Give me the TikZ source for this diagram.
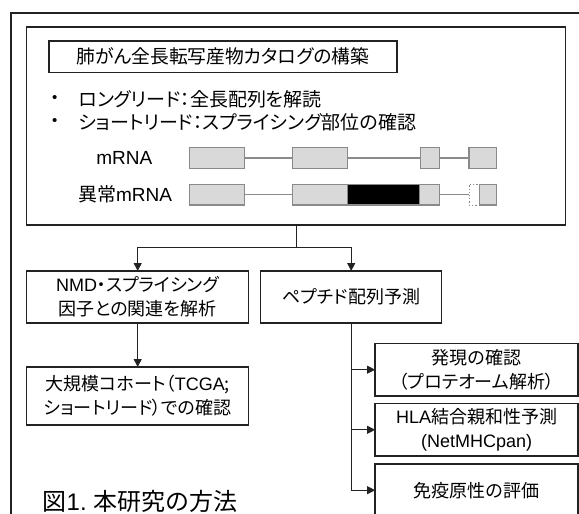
\documentclass[tikz,border=0pt]{standalone}
\usepackage{fontspec}
\setmainfont[RawFeature=+palt]{Noto Sans CJK JP}
\newfontfamily\lat{Liberation Sans}
\usetikzlibrary{arrows.meta}
\definecolor{exfill}{HTML}{D9D9D9}
\definecolor{exline}{HTML}{8A8A8A}
\definecolor{ink}{HTML}{222222}
\tikzset{
  frame/.style={draw=ink, line width=1.3pt},
  box/.style={draw=ink, line width=1.3pt, fill=white, inner sep=0pt, outer sep=0pt, align=center, font=\fontsize{18}{24}\selectfont},
  exon/.style={draw=exline, line width=1.2pt, fill=exfill, inner sep=0pt, outer sep=0pt, minimum height=20.6pt, anchor=west},
  intron/.style={draw=exline, line width=1.2pt},
  conn/.style={draw=ink, line width=0.9pt},
  arr/.style={conn, -{Triangle[length=8pt,width=8pt]}},
  lbl/.style={inner sep=0pt, font=\fontsize{19}{22}\selectfont},
}
\begin{document}
\begin{tikzpicture}[x=1pt,y=-1pt]
\path[use as bounding box] (0,0) rectangle (579,514);
\clip (0,0) rectangle (579,514);
% outer frame (cut by the page edge)
\draw[frame] (11,13) rectangle (600,540);
% inner box
\node[box, minimum width=539pt, minimum height=198pt] (inner) at (296.2,126) {};
\node[box, minimum width=348pt, minimum height=31.3pt, font=\fontsize{18.8}{22}\selectfont] (title) at (223,56.7) {肺がん全長転写産物カタログの構築};
% bullets
\node[lbl, anchor=center, font=\fontsize{15}{18}\selectfont] (b1) at (54.7,99) {\lat •};
\node[lbl, anchor=center, font=\fontsize{15}{18}\selectfont] (b2) at (54.7,122) {\lat •};
\node[lbl, anchor=west] (t1) at (78.4,99) {ロングリード：全長配列を解読};
\node[lbl, anchor=west] (t2) at (78.4,122) {ショートリード：スプライシング部位の確認};
% transcripts
\node[lbl] (m1) at (124.3,158) {\lat mRNA};
\node[lbl] (m2) at (125,194.7) {異常{\lat mRNA}};
\node[exon, minimum width=55pt] (a1) at (189.3,158) {};
\node[exon, minimum width=55pt] (a2) at (292.5,158) {};
\node[exon, minimum width=19.5pt] (a3) at (420.3,158) {};
\node[exon, minimum width=27.5pt] (a4) at (469,158) {};
\draw[intron] (a1.east) -- (a2.west);
\draw[intron] (a2.east) -- (a3.west);
\draw[intron] (a3.east) -- (a4.west);
\node[exon, minimum width=55pt] (c1) at (189.3,194.7) {};
\node[exon, minimum width=55pt] (c2) at (292.5,194.7) {};
\node[exon, minimum width=72pt, fill=black] (c3) at (347.5,194.7) {};
\node[exon, minimum width=20pt] (c4) at (419.5,194.7) {};
\node[exon, minimum width=10pt, fill=white, dotted, line width=0.9pt] (c5) at (469,194.7) {};
\node[exon, minimum width=17.3pt] (c6) at (479.4,194.7) {};
\draw[intron] (c1.east) -- (c2.west);
\draw[intron] (c4.east) -- (c5.west);
% lower boxes
\node[box, minimum width=222pt, minimum height=52pt] (nmd) at (137.7,297) {{\lat NMD}・スプライシング\\因子との関連を解析};
\node[box, minimum width=181pt, minimum height=52pt] (pep) at (351.2,297) {ペプチド配列予測};
\node[box, minimum width=222pt, minimum height=58pt] (tcga) at (137.7,396) {大規模コホート（{\lat TCGA};\\ショートリード）での確認};
\node[box, minimum width=203pt, minimum height=52.5pt] (r1) at (476.6,369.7) {発現の確認\\（プロテオーム解析）};
\node[box, minimum width=203pt, minimum height=52.5pt] (r2) at (476.6,429.8) {{\lat HLA}結合親和性予測\\{\lat (NetMHCpan)}};
\node[box, minimum width=203pt, minimum height=52.5pt] (r3) at (476.6,490.2) {免疫原性の評価};
% connectors
\coordinate (split) at (296.5,247);
\draw[conn] (inner.south -| split) -- (split);
\draw[arr] (split) -| (nmd.north);
\draw[arr] (split) -| (pep.north);
\draw[arr] (nmd.south) -- (tcga.north);
\draw[arr] (pep.south) |- (r1.west);
\draw[arr] (pep.south) |- (r2.west);
\draw[arr] (pep.south) |- (r3.west);
% caption
\node[inner sep=0pt, anchor=west, font=\fontsize{24}{28}\selectfont] (cap) at (42.5,501) {図{\lat 1.} 本研究の方法};
\end{tikzpicture}
\end{document}
